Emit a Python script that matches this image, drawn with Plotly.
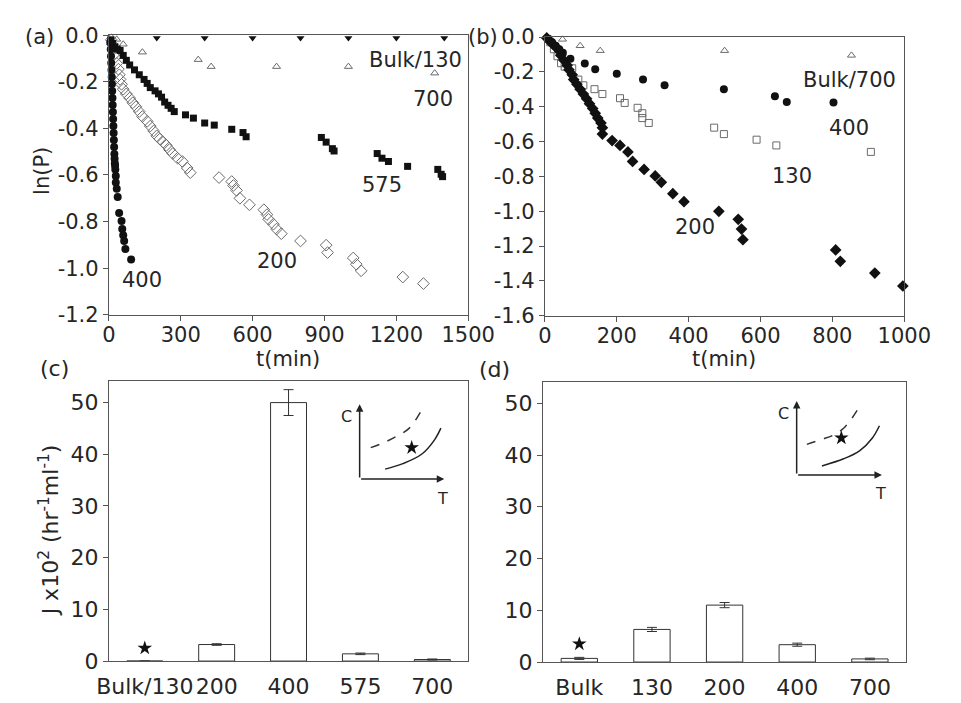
import plotly.graph_objects as go

# ---------------- panel (a): ln(P) vs t(min) ----------------
a_bulk130_t = [200, 400, 600, 800, 1000, 1200, 1400]
a_bulk130_y = [-0.012] * 7

a_700_t = [33, 60, 140, 373, 427, 700, 1000, 1360]
a_700_y = [-0.018, -0.039, -0.073, -0.105, -0.135, -0.135, -0.135, -0.163]

a_575_t = [8, 15, 25, 35, 47, 60, 73, 87, 107, 127, 147, 160, 173, 193, 207, 220, 233, 247,
           260, 273, 320, 353, 400, 440, 513, 560, 573, 887, 907, 933, 940, 1120, 1140, 1167,
           1247, 1373, 1387, 1393]
a_575_y = [-0.02, -0.035, -0.05, -0.06, -0.066, -0.087, -0.108, -0.128, -0.149, -0.170, -0.190,
           -0.207, -0.225, -0.239, -0.252, -0.266, -0.287, -0.301, -0.314, -0.328, -0.342, -0.356,
           -0.377, -0.386, -0.404, -0.418, -0.436, -0.439, -0.459, -0.487, -0.497, -0.508, -0.528,
           -0.542, -0.563, -0.576, -0.597, -0.607]

a_200_t = [10, 15, 20, 25, 27, 33, 40, 44, 47, 53, 60, 73, 87, 100, 113, 127, 140, 160, 173, 187,
           200, 213, 227, 240, 253, 267, 287, 307, 327, 340, 460, 513, 520, 533, 547, 587, 647,
           660, 667, 687, 700, 720, 800, 907, 913, 1020, 1033, 1053, 1227, 1313]
a_200_y = [-0.02, -0.04, -0.06, -0.08, -0.094, -0.121, -0.146, -0.170, -0.190, -0.211, -0.232,
           -0.252, -0.270, -0.290, -0.307, -0.328, -0.349, -0.370, -0.390, -0.411, -0.432, -0.446,
           -0.459, -0.473, -0.491, -0.508, -0.528, -0.542, -0.570, -0.590, -0.611, -0.628, -0.645,
           -0.666, -0.700, -0.728, -0.749, -0.770, -0.790, -0.811, -0.832, -0.852, -0.883, -0.901,
           -0.933, -0.956, -0.983, -1.011, -1.038, -1.066]

a_400_t = [6, 8, 9, 10, 11, 12, 13, 14, 15, 16, 17, 18, 19, 20, 21, 22, 23, 24, 25, 26, 27, 29,
           29, 33, 37, 43, 53, 56, 60, 64, 69, 93]
a_400_y = [-0.03, -0.06, -0.09, -0.12, -0.15, -0.18, -0.21, -0.24, -0.27, -0.30, -0.33, -0.36,
           -0.39, -0.42, -0.45, -0.48, -0.51, -0.53, -0.55, -0.56, -0.576, -0.604, -0.632, -0.659,
           -0.694, -0.763, -0.797, -0.832, -0.859, -0.883, -0.918, -0.963]

# ---------------- panel (b): ln(P) vs t(min) ----------------
b_700_t = [49, 98, 154, 500, 853]
b_700_y = [-0.013, -0.050, -0.078, -0.078, -0.105]

b_400_t = [10, 20, 30, 40, 50, 71, 111, 140, 200, 273, 333, 498, 640, 673, 803]
b_400_y = [-0.01, -0.03, -0.05, -0.07, -0.09, -0.124, -0.151, -0.185, -0.210, -0.244, -0.277,
           -0.299, -0.340, -0.373, -0.376]

b_130_t = [15, 25, 35, 45, 55, 76, 93, 107, 138, 160, 209, 222, 258, 271, 271, 289, 471, 498,
           589, 644, 907]
b_130_y = [-0.03, -0.07, -0.11, -0.15, -0.17, -0.179, -0.244, -0.277, -0.299, -0.327, -0.351,
           -0.378, -0.406, -0.437, -0.465, -0.493, -0.520, -0.557, -0.589, -0.622, -0.659]

b_200_t = [5, 13, 22, 31, 40, 44, 53, 62, 67, 76, 80, 89, 98, 107, 116, 124, 133, 140, 147, 156,
           160, 160, 187, 209, 231, 244, 276, 307, 324, 356, 387, 484, 538, 547, 551, 809, 822,
           918, 996]
b_200_y = [-0.005, -0.022, -0.041, -0.059, -0.078, -0.105, -0.133, -0.161, -0.188, -0.216, -0.244,
           -0.271, -0.299, -0.327, -0.354, -0.382, -0.410, -0.437, -0.465, -0.493, -0.520, -0.557,
           -0.594, -0.622, -0.659, -0.714, -0.760, -0.797, -0.834, -0.899, -0.945, -1.000, -1.046,
           -1.102, -1.163, -1.222, -1.287, -1.355, -1.429]

# ---------------- panels (c), (d): nucleation rate J ----------------
c_cats = ["Bulk/130", "200", "400", "575", "700"]
c_J = [0, 3.2, 50, 1.4, 0.3]
c_err = [0, 0.15, 2.5, 0.15, 0.1]
c_star_J = [2.5]

d_cats = ["Bulk", "130", "200", "400", "700"]
d_J = [0.7, 6.3, 11.0, 3.35, 0.6]
d_err = [0.2, 0.4, 0.5, 0.3, 0.15]
d_star_J = [3.5]

# schematic phase diagrams (C vs T) drawn in the insets
c_dash_u = [0.131, 0.283, 0.434, 0.584, 0.717]
c_dash_v = [0.42, 0.485, 0.571, 0.678, 0.89]
c_solid_u = [0.301, 0.51, 0.736, 0.887, 0.96]
c_solid_v = [0.133, 0.206, 0.335, 0.528, 0.68]
c_star_uv = ([0.615], [0.42])

d_dash_u = [0.119, 0.288, 0.438, 0.569, 0.719]
d_dash_v = [0.413, 0.478, 0.543, 0.652, 0.89]
d_solid_u = [0.296, 0.551, 0.737, 0.888, 0.97]
d_solid_v = [0.122, 0.218, 0.326, 0.5, 0.665]
d_star_uv = ([0.524], [0.5])

# tick labels (plain hyphen minus)
a_xticks = [0, 300, 600, 900, 1200, 1500]
a_yticks = [0.0, -0.2, -0.4, -0.6, -0.8, -1.0, -1.2]
b_xticks = [0, 200, 400, 600, 800, 1000]
b_yticks = [0.0, -0.2, -0.4, -0.6, -0.8, -1.0, -1.2, -1.4, -1.6]
j_yticks = [0, 10, 20, 30, 40, 50]

W, H = 961, 703
FONT = "DejaVu Sans"
TXT = "#262626"
LINE = "#555555"
INK = "#111111"
OPEN = "#6a6a6a"


def xdom(left, right):
    return [left / W, right / W]


def ydom(top, bottom):
    return [1 - bottom / H, 1 - top / H]


def fmt(v):
    return f"{v:.1f}"


fig = go.Figure()


def pts(x, y, xa, ya, symbol, size, color, lw=1):
    fig.add_trace(go.Scatter(
        x=x, y=y, mode="markers", xaxis=xa, yaxis=ya, cliponaxis=False,
        marker=dict(symbol=symbol, size=size, color=color, line=dict(width=lw, color=color)),
        showlegend=False, hoverinfo="skip"))


# panel (a)
pts(a_700_t, a_700_y, "x", "y", "triangle-up-open", 7, OPEN)
pts(a_200_t, a_200_y, "x", "y", "diamond-open", 9, OPEN)
pts(a_575_t, a_575_y, "x", "y", "square", 7, INK, 0)
pts(a_400_t, a_400_y, "x", "y", "circle", 8, INK, 0)
pts(a_bulk130_t, a_bulk130_y, "x", "y", "triangle-down", 7, INK, 0)

# panel (b)
pts(b_700_t, b_700_y, "x2", "y2", "triangle-up-open", 7, OPEN)
pts(b_130_t, b_130_y, "x2", "y2", "square-open", 7, OPEN)
pts(b_400_t, b_400_y, "x2", "y2", "circle", 8, INK, 0)
pts(b_200_t, b_200_y, "x2", "y2", "diamond", 9, INK, 0)


def bars(cats, vals, errs, xa, ya):
    fig.add_trace(go.Bar(
        x=cats, y=vals, width=0.5, xaxis=xa, yaxis=ya,
        marker=dict(color="white", line=dict(color="#333333", width=1)),
        error_y=dict(type="data", array=errs, visible=True, color="#333333", thickness=1, width=5),
        showlegend=False, hoverinfo="skip"))


bars(c_cats, c_J, c_err, "x3", "y3")
pts([c_cats[0]], c_star_J, "x3", "y3", "star", 11, INK, 0)
bars(d_cats, d_J, d_err, "x4", "y4")
pts([d_cats[0]], d_star_J, "x4", "y4", "star", 11, INK, 0)


# insets
def inset_curves(du, dv, su, sv, star, xa, ya):
    fig.add_trace(go.Scatter(x=du, y=dv, mode="lines", xaxis=xa, yaxis=ya,
                             line=dict(color="#333333", width=1.5, dash="dash", shape="spline"),
                             showlegend=False, hoverinfo="skip"))
    fig.add_trace(go.Scatter(x=su, y=sv, mode="lines", xaxis=xa, yaxis=ya,
                             line=dict(color="#222222", width=1.5, shape="spline"),
                             showlegend=False, hoverinfo="skip"))
    fig.add_trace(go.Scatter(x=star[0], y=star[1], mode="markers", xaxis=xa, yaxis=ya,
                             marker=dict(symbol="star", size=11, color=INK),
                             showlegend=False, hoverinfo="skip"))


inset_curves(c_dash_u, c_dash_v, c_solid_u, c_solid_v, c_star_uv, "x5", "y5")
inset_curves(d_dash_u, d_dash_v, d_solid_u, d_solid_v, d_star_uv, "x6", "y6")

tickfont_top = dict(family=FONT, size=21, color=TXT)
tickfont_bot = dict(family=FONT, size=22, color=TXT)

common = dict(showline=True, linecolor=LINE, linewidth=1, mirror=True, showgrid=False,
              zeroline=False, ticks="outside", ticklen=5, tickcolor=LINE, tickwidth=1)

layout_axes = dict(
    xaxis=dict(domain=xdom(100, 475), anchor="y", range=[0, 1500], tickvals=a_xticks,
               ticktext=[str(v) for v in a_xticks], tickfont=tickfont_top,
               ticklabelstandoff=-4, **common),
    yaxis=dict(domain=ydom(24, 314), anchor="x", range=[-1.2, 0], tickvals=a_yticks,
               ticktext=[fmt(v) for v in a_yticks], tickfont=tickfont_top, **common),
    xaxis2=dict(domain=xdom(555, 930), anchor="y2", range=[0, 1000], tickvals=b_xticks,
                ticktext=[str(v) for v in b_xticks], tickfont=tickfont_top,
                ticklabelstandoff=-4, **common),
    yaxis2=dict(domain=ydom(26, 315), anchor="x2", range=[-1.6, 0], tickvals=b_yticks,
                ticktext=[fmt(v) for v in b_yticks], tickfont=tickfont_top, **common),
    xaxis3=dict(domain=xdom(100, 475), anchor="y3", type="category", range=[-0.5, 4.5],
                tickfont=tickfont_bot, ticklabelstandoff=6, **{**common, "ticks": ""}),
    yaxis3=dict(domain=ydom(383, 673), anchor="x3", range=[0, 54.1], tickvals=j_yticks,
                tickfont=tickfont_bot, **common),
    xaxis4=dict(domain=xdom(553, 932), anchor="y4", type="category", range=[-0.5, 4.5],
                tickfont=tickfont_bot, ticklabelstandoff=6, **{**common, "ticks": ""}),
    yaxis4=dict(domain=ydom(384, 674), anchor="x4", range=[0, 54.05], tickvals=j_yticks,
                tickfont=tickfont_bot, **common),
    xaxis5=dict(domain=xdom(361.7, 450), anchor="y5", range=[0, 1], visible=False),
    yaxis5=dict(domain=ydom(406.7, 484.3), anchor="x5", range=[0, 1], visible=False),
    xaxis6=dict(domain=xdom(817.7, 906.7), anchor="y6", range=[0, 1], visible=False),
    yaxis6=dict(domain=ydom(403.3, 480), anchor="x6", range=[0, 1], visible=False),
)

annotations = []


def label(text, x, y, xref, yref, size=21, angle=0, xshift=0, yshift=0):
    annotations.append(dict(text=text, x=x, y=y, xref=xref, yref=yref, showarrow=False,
                            textangle=angle, xanchor="center", yanchor="middle",
                            xshift=xshift, yshift=yshift,
                            font=dict(family=FONT, size=size, color=TXT)))


# series labels inside the kinetics panels
label("Bulk/130", 1280, -0.108, "x", "y")
label("700", 1353, -0.273, "x", "y")
label("575", 1140, -0.645, "x", "y")
label("200", 700, -0.969, "x", "y")
label("400", 140, -1.052, "x", "y")
label("Bulk/700", 848, -0.244, "x2", "y2")
label("400", 845, -0.52, "x2", "y2")
label("130", 688, -0.797, "x2", "y2")
label("200", 418, -1.092, "x2", "y2")

# panel letters and axis titles
label("(a)", 28 / W, 1 - 26 / H, "paper", "paper")
label("(b)", 490 / W, 1 - 26 / H, "paper", "paper")
label("(c)", 43 / W, 1 - 370 / H, "paper", "paper", size=22)
label("(d)", 502 / W, 1 - 371 / H, "paper", "paper", size=22)
label("ln(P)", 30 / W, 1 - 165 / H, "paper", "paper", angle=-90)
label("t(min)", 287 / W, 1 - 360 / H, "paper", "paper")
label("t(min)", 742 / W, 1 - 360 / H, "paper", "paper")
label("J x10<sup>2</sup> (hr<sup>-1</sup>ml<sup>-1</sup>)", 37 / W, 1 - 537 / H, "paper", "paper",
      size=22, angle=-90)

# inset axes arrows and their letters
for xa, ya in (("x5", "y5"), ("x6", "y6")):
    for hx, hy in ((0, 1), (1, 0)):
        annotations.append(dict(x=hx, y=hy, ax=0, ay=0, xref=xa, yref=ya, axref=xa, ayref=ya,
                                text="", showarrow=True, arrowhead=2, arrowsize=1,
                                arrowwidth=1.5, arrowcolor="#222222"))
    label("C", 0, 0.83, xa, ya, size=16, xshift=-13)
    label("T", 0.98, 0, xa, ya, size=16, yshift=-19)

fig.update_layout(
    width=W, height=H, autosize=False,
    margin=dict(l=0, r=0, t=0, b=0),
    paper_bgcolor="white", plot_bgcolor="white",
    font=dict(family=FONT, size=21, color=TXT),
    bargap=0.5, showlegend=False,
    annotations=annotations,
    **layout_axes,
)

fig.write_html("out.html")
